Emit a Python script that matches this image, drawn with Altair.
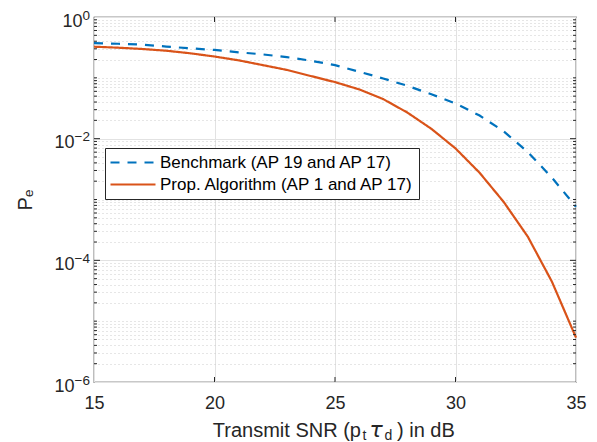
import altair as alt
import pandas as pd

# ---------------- data ----------------
snr_db = list(range(15, 36))
benchmark_pe = [0.372, 0.363, 0.351, 0.327, 0.305, 0.288, 0.263, 0.243, 0.219, 0.191, 0.162,
                0.126, 0.0977, 0.0741, 0.0537, 0.038, 0.024, 0.0132, 0.00603, 0.00229, 0.000759]
proposed_pe = [0.325, 0.313, 0.298, 0.279, 0.253, 0.224, 0.194, 0.162, 0.135, 0.107, 0.0851,
               0.0646, 0.0447, 0.0269, 0.0145, 0.00692, 0.00275, 0.000912, 0.000245, 4.47e-5, 5.37e-6]
series_names = ["Benchmark (AP 19 and AP 17)", "Prop. Algorithm (AP 1 and AP 17)"]
series_colors = ["#0072BD", "#D95319"]
series_dashes = [[9, 8], [1, 0]]

x_tick_values = [15, 20, 25, 30, 35]
y_tick_values = [m * 10.0 ** k for k in range(-6, 0) for m in range(1, 10)] + [1.0]
y_label_values = [1.0, 1e-2, 1e-4, 1e-6]
y_label_exponents = ["0", "\u22122", "\u22124", "\u22126"]
x_inner_major = [20, 25, 30]
y_inner_major = [1e-2, 1e-4]
y_inner_minor = [v for v in y_tick_values if v not in (1.0, 1e-2, 1e-4, 1e-6)]

rows = []
for name, vals in zip(series_names, [benchmark_pe, proposed_pe]):
    for s, p in zip(snr_db, vals):
        rows.append({"snr": s, "pe": p, "series": name})
df = pd.DataFrame(rows)

W, H = 482, 365
FONT = "Liberation Sans"
INK = "#262626"

xscale = alt.Scale(domain=[15, 35], nice=False, zero=False)
yscale = alt.Scale(type="log", domain=[1e-6, 1], nice=False)

E = "round(log(datum.value)/LN10)"
is_pow = f"abs(log(datum.value)/LN10 - {E}) < 1e-6"
is_major = f"({is_pow}) && ({E} % 2 == 0)"
label_expr = f"({is_major}) ? '10' : ''"

x_axis = alt.Axis(
    values=x_tick_values, format="d", ticks=False, domain=False,
    labelFlush=False, labelOverlap=False, labelFont=FONT, labelFontSize=18,
    labelColor=INK, labelPadding=26, labelBaseline="alphabetic",
    grid=True, gridColor="#e2e2e2", gridWidth=1, title=None)

y_axis = alt.Axis(
    values=y_tick_values, labelExpr=label_expr, ticks=False, domain=False,
    labelOverlap=False, labelFont=FONT, labelFontSize=18, labelColor=INK,
    labelPadding={"condition": {"test": f"{E} == 0", "value": 12}, "value": 20},
    labelOffset=4,
    grid=True,
    gridColor={"condition": {"test": is_major, "value": "#e2e2e2"}, "value": "#cdcdcd"},
    gridDash={"condition": {"test": is_major, "value": []}, "value": [1, 3]},
    title="P\u2091", titleFont=FONT, titleFontSize=20, titleFontWeight="normal",
    titleColor=INK, titleX=-63, titleY=H / 2, titleAngle=270,
    titleBaseline="alphabetic", titleAlign="center")

legend = alt.Legend(
    orient="none", legendX=11, legendY=131, title=None,
    symbolType="stroke", symbolSize=2025, symbolStrokeWidth=2.2,
    clipHeight=21, rowPadding=1, padding=4, labelOffset=3,
    labelFont=FONT, labelFontSize=17, labelColor="black", labelLimit=400,
    strokeColor=INK, fillColor="white",
)

lines = alt.Chart(df).mark_line(strokeWidth=2.2).encode(
    x=alt.X("snr:Q", scale=xscale, axis=x_axis),
    y=alt.Y("pe:Q", scale=yscale, axis=y_axis),
    color=alt.Color("series:N", scale=alt.Scale(domain=series_names, range=series_colors),
                    legend=legend),
    strokeDash=alt.StrokeDash("series:N", scale=alt.Scale(domain=series_names, range=series_dashes),
                              legend=legend),
)


def tick_layer(values, field, channel, a, b):
    d = pd.DataFrame({field: values})
    if channel == "x":
        enc = dict(x=alt.X(f"{field}:Q", scale=xscale, axis=x_axis),
                   y=alt.value(a), y2=alt.value(b))
    else:
        enc = dict(y=alt.Y(f"{field}:Q", scale=yscale, axis=y_axis),
                   x=alt.value(a), x2=alt.value(b))
    return alt.Chart(d).mark_rule(color=INK, strokeWidth=1).encode(**enc)


ticks = [
    tick_layer(x_inner_major, "snr", "x", H, H - 5),
    tick_layer(x_inner_major, "snr", "x", 0, 5),
    tick_layer(y_inner_major, "pe", "y", 0, 6),
    tick_layer(y_inner_major, "pe", "y", W, W - 6),
    tick_layer(y_inner_minor, "pe", "y", 0, 3),
    tick_layer(y_inner_minor, "pe", "y", W, W - 3),
]

# exponent part of the y tick labels (superscripts)
exponents = alt.Chart(pd.DataFrame({"pe": y_label_values, "exp": y_label_exponents})).mark_text(
    font=FONT, fontSize=13.5, color=INK, align="right", baseline="alphabetic", dy=2.5
).encode(
    y=alt.Y("pe:Q", scale=yscale, axis=y_axis),
    x=alt.value(-4),
    text="exp:N",
)


def txt(s, x, y, size, align="left", font=FONT, style="normal"):
    return alt.Chart(alt.Data(values=[{}])).mark_text(
        font=font, fontSize=size, color=INK, align=align,
        baseline="alphabetic", fontStyle=style
    ).encode(x=alt.value(x), y=alt.value(y), text=alt.value(s))


title_parts = [
    txt("Transmit SNR (p", 267, 419.5, 20, "right"),
    txt("t", 268.5, 422.5, 14),
    txt("\u03c4", 275.5, 419.5, 22, font="DejaVu Sans", style="italic"),
    txt("d", 290.5, 422.5, 14),
    txt(") in dB", 303, 419.5, 20),
]

chart = alt.layer(lines, *ticks, exponents, *title_parts).properties(
    width=W, height=H,
    padding={"left": 86, "top": 9, "right": 13, "bottom": 60},
    autosize=alt.AutoSizeParams(type="none"),
).configure_view(stroke=INK, strokeWidth=1.2)

chart.save("out.html", embed_options={"renderer": "svg", "actions": False})
